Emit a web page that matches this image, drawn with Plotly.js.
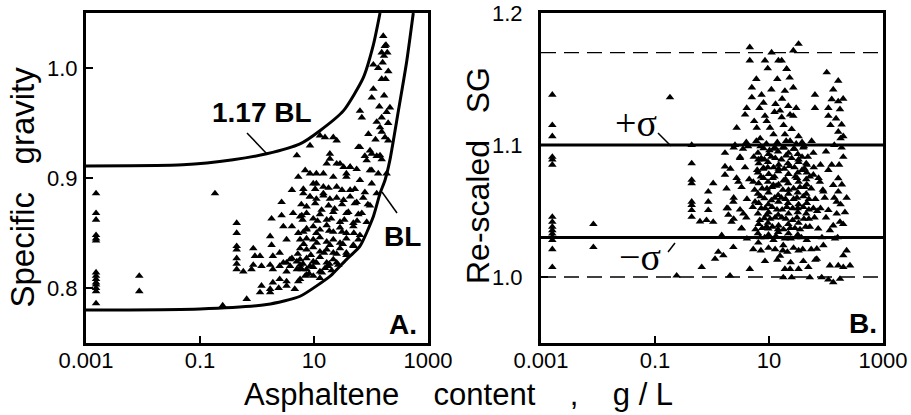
<!DOCTYPE html>
<html><head><meta charset="utf-8">
<script src="https://cdn.plot.ly/plotly-3.0.1.min.js"></script>
<style>html,body{margin:0;padding:0;background:#fff}#chart{width:911px;height:415px}</style>
</head><body><div id="chart"></div>
<script>
// ---------- DATA ----------
// Panel A: specific gravity vs asphaltene content (g/L)
const leftPoints = [
 [0.0015,0.886],[0.0015,0.868],[0.0015,0.862],[0.0015,0.848],[0.0015,0.845],[0.0015,0.843],[0.0015,0.814],[0.0015,0.811],[0.0015,0.808],[0.0015,0.805],[0.0015,0.803],[0.0015,0.800],[0.0015,0.797],[0.0015,0.786],
 [0.0086,0.811],[0.0086,0.797],
 [0.183,0.886],[0.25,0.784],[0.66,0.790],
 [0.44,0.859],[0.44,0.850],[0.44,0.838],[0.44,0.835],[0.44,0.827],[0.44,0.822],[0.44,0.817],[0.575,0.815],
 [164,1.029],[183,1.021],[154,1.014],[193,1.014],[169,1.011],[110,1.003],[134,1.000],[201,0.997],[154,0.990],[110,0.981],[103,0.973],[215,0.964],[188,0.960],[64,0.961],[69,0.955],[154,0.955],[126,0.951],[144,0.946],[154,0.942],[176,0.937],[201,0.934],[15.6,0.937],[21.8,0.937],[25,0.934],[64,0.928],[96,0.925],[126,0.920],[78,0.920],[154,0.917],[19,0.922],[16.7,0.913],[25,0.913],[33,0.910],[43,0.910],[56,0.908],[103,0.907],[188,0.904],[11,0.904],[37,0.904],
 [5.0,0.9205],[8.5,0.9295],[12.7,0.9386],[7.0,0.907],[5.3,0.901],[8.5,0.904],[11,0.895],[4.1,0.889],[6.5,0.890],[2.7,0.878],[8.5,0.883],[14.6,0.886],[1.8,0.863],[2.7,0.866],[4.3,0.868],[6.1,0.866],[2.9,0.856],[4.1,0.856],[1.7,0.847],[1.8,0.839],[3.3,0.844],[5.3,0.850],[7.4,0.853],[0.86,0.836],[0.92,0.829],[1.13,0.829],[1.9,0.829],[2.5,0.832],[0.86,0.821],[1.2,0.820],[1.7,0.821],[3.3,0.823],[4.1,0.827],[5.0,0.824],[0.8,0.817],[1.9,0.817],[2.5,0.820],[6.1,0.817],[8.5,0.820],[11,0.823],[7.4,0.812],[2.5,0.808],[1.9,0.805],[3.3,0.806],[1.2,0.802],[1.7,0.799],[2.4,0.800],[1.13,0.796],[1.7,0.796],[4.6,0.799],[3.3,0.802],[5.3,0.806],
 [60,0.928],[103,0.922],[144,0.9205],[84,0.916],[19,0.9175],[28.6,0.913],[43,0.910],[96,0.907],[134,0.904],[14.6,0.904],[21.8,0.901],[37,0.901],[64,0.898],[103,0.895],[9.7,0.895],[14.6,0.892],[25,0.892],[43,0.889],[78,0.887],[126,0.886],[6.5,0.886],[11,0.881],[19,0.881],[33,0.880],[56,0.878],[96,0.875],[7.4,0.874],[13.6,0.871],[23,0.872],[40,0.869],[69,0.868],[5.7,0.865],[9.7,0.863],[16.7,0.862],[28.6,0.860],[49,0.859],[84,0.860],[7.4,0.854],[12.7,0.853],[21.8,0.851],[37,0.850],[64,0.848],[5.7,0.844],[9.7,0.844],[16.7,0.842],[28.6,0.841],[49,0.839],[7.4,0.835],[12.7,0.833],[21.8,0.832],[37,0.830],[5.7,0.826],[9.7,0.824],[16.7,0.823],[26.7,0.821],[7.4,0.817],[12.7,0.815],[20.4,0.816],[5.7,0.808],[9.7,0.811],[12.7,0.809],
 [7.0,0.811],[17.8,0.820],[25,0.823],[37,0.832],[49,0.838],[60,0.844],
 [8.5,0.883],[14.6,0.884],[25,0.882],[43,0.883],[73,0.882],
 [7.4,0.868],[12.7,0.867],[21.8,0.869],[37,0.868],[60,0.867],
 [9.7,0.856],[16.7,0.857],[28.6,0.855],[49,0.856],
 [7.4,0.845],[12.7,0.846],[21.8,0.844],[37,0.845],
 [5.7,0.836],[9.7,0.837],[16.7,0.835],[28.6,0.836],
 [7.4,0.827],[12.7,0.828],[21.8,0.826],
 [5.7,0.818],[9.7,0.819],[15.6,0.818],
 [2.9,0.823],[3.8,0.820],[5.0,0.817],[3.8,0.826],[5.7,0.821],[3.3,0.815],
 [10.5,0.890],[18,0.891],[31,0.889],[52,0.890],
 [6.0,0.876],[10.5,0.877],[18,0.875],[31,0.876],[52,0.877],[88,0.876],
 [6.3,0.862],[11.5,0.861],[20,0.863],[34,0.862],[57,0.861],
 [6.5,0.851],[11,0.850],[18.5,0.852],[31,0.851],[50,0.850],
 [6.6,0.840],[11.2,0.841],[19,0.839],[32,0.840],
 [5.2,0.831],[8.8,0.830],[15,0.832],[25,0.831],
 [6.4,0.822],[10.8,0.823],[18.5,0.822],
 [8.2,0.813],[13.8,0.814],
 [120,0.935],[170,0.975],[180,0.990],[160,1.005],[140,0.965],[90,0.940],[200,0.950],[175,1.020]
];
// BL curve and 1.17 BL curve
const blAsph = [0.001, 0.1, 1.48, 5.7, 19, 21.9, 37.4, 64, 110, 144, 176, 214, 302, 423, 552];
const blSG   = [0.780, 0.781, 0.785, 0.7925, 0.8106, 0.8136, 0.826, 0.838, 0.865, 0.886, 0.898, 0.916, 0.961, 1.006, 1.05];
const ulAsph = [0.001, 0.05, 0.38, 1.48, 5.68, 12.7, 32.7, 73, 110, 144];
const ulSG   = [0.911, 0.912, 0.9166, 0.922, 0.931, 0.943, 0.961, 0.991, 1.021, 1.05];

// Panel B: re-scaled SG vs asphaltene content (g/L)
const rightPoints = [
 [0.00158,1.138],[0.00158,1.115],[0.00158,1.1066],[0.00158,1.091],[0.00158,1.089],[0.00158,1.085],[0.00158,1.0455],[0.00158,1.0417],[0.00158,1.038],[0.00158,1.0354],[0.00158,1.0328],[0.00158,1.0303],[0.00158,1.028],[0.00158,1.021],[0.00158,1.0074],
 [0.0083,1.040],[0.0083,1.0226],[0.183,1.136],[0.24,1.001],
 [0.44,1.100],[0.44,1.086],[0.44,1.0735],[0.44,1.071],[0.44,1.057],[0.44,1.0545],[0.44,1.0506],[0.44,1.0455],
 [0.615,1.042],[0.66,1.0074],[0.8,1.043],[0.86,1.057],[0.86,1.0646],[1.05,1.071],[0.86,1.0506],[1.05,1.0417],[1.13,1.0137],[1.29,1.019],[1.48,1.0316],[1.58,1.0163],[1.69,1.0837],[1.69,1.0774],[1.69,1.094],[1.81,1.052],[1.94,1.047],[2.07,1.001],[2.2,1.0417],[2.37,1.057],[2.37,1.0226],[2.53,1.100],[2.71,1.113],[2.9,1.072],[3.1,1.091],[3.3,1.0366],[3.55,1.048],[3.8,1.123],[4.06,1.128],[4.3,1.099],[4.6,1.006],[4.6,1.174],[4.6,1.164],[5.0,1.1435],[5.0,1.136],[5.3,1.072],[5.7,1.057],[6.1,1.113],[6.5,1.089],[6.5,1.026],[7.0,1.105],[7.4,1.138],[7.9,1.082],[8.5,1.164],[8.5,1.122],[9.1,1.047],[9.7,1.0366],[10.4,1.113],[11.1,1.170],[11.9,1.0697],[12.7,1.098],[14.6,1.164],[15.6,1.126],[16.7,1.121],[15.6,1.016],[17.8,1.024],[20.4,1.1575],[19,1.006],
 [33,1.1766],[26.7,1.1715],[16.7,1.164],[20.4,1.1575],[23,1.151],[26.7,1.1435],[19,1.141],[103,1.155],[164,1.1486],[134,1.142],[64,1.138],[64,1.128],[126,1.1346],[164,1.133],[110,1.128],[176,1.127],[110,1.122],[21.8,1.1295],[23.4,1.123],[26.7,1.122],[188,1.1155],[164,1.110],[201,1.1066],[33,1.1066],[23.4,1.103],[56,1.103],[40,1.098],[60,1.094],[188,1.098],[201,1.091],[126,1.085],[110,1.081],[46,1.085],[60,1.0774],[164,1.0748],[134,1.0697],[164,1.0646],[78,1.072],[90,1.0646],[154,1.057],[215,1.049],[154,1.048],[110,1.0506],[60,1.052],[134,1.039],[176,1.0417],[117,1.0354],[73,1.0366],[144,1.029],[90,1.024],[69,1.0214],[201,1.0163],[69,1.0137],[117,1.0087],[164,1.0087],[201,1.0074],[264,1.0087],[49,1.0074],[33,1.006],[23.4,1.006],[17.8,0.9997],[25,0.9997],[52,0.9997],[84,0.9997],[110,0.998],[134,0.996],[176,0.9985],
 [9.1,1.118],[12,1.108],[18,1.115],[13,1.131],[6.8,1.128],[19,1.108],
 [2.4,1.098],[3.5,1.097],[7.1,1.099],[10.2,1.096],[17.5,1.098],[27,1.097],[41,1.099],
 [3.1,1.090],[5.4,1.091],[8.3,1.089],[12.9,1.090],[20,1.092],[33,1.089],[48,1.091],
 [2.1,1.082],[3.8,1.083],[6.2,1.081],[9.5,1.083],[14.8,1.082],[23,1.084],[38,1.081],[61,1.083],
 [2.7,1.075],[4.5,1.074],[7.2,1.076],[11.6,1.075],[18,1.073],[29,1.076],[45,1.074],[74,1.075],
 [1.8,1.067],[3.3,1.068],[5.6,1.066],[9.2,1.067],[13.4,1.069],[22,1.066],[35,1.068],[55,1.067],[88,1.066],
 [2.4,1.060],[4.1,1.059],[7.1,1.061],[11,1.058],[16.5,1.060],[27,1.059],[40,1.061],[65,1.059],
 [1.9,1.052],[3.1,1.051],[5.2,1.053],[8.6,1.052],[13.8,1.051],[20.5,1.053],[32,1.052],[50,1.051],[80,1.052],
 [2.4,1.044],[4.0,1.045],[6.9,1.043],[10.5,1.044],[16.8,1.045],[26,1.043],[41,1.044],[63,1.045],
 [3.3,1.037],[5.8,1.036],[9,1.038],[14.4,1.036],[23.5,1.037],[35,1.036],[52,1.038],
 [4.1,1.029],[7,1.030],[12,1.028],[19,1.029],[30,1.030],[46,1.028],
 [5.3,1.021],[9.8,1.022],[17.5,1.020],[27,1.022],[39,1.021],
 [6.4,1.094],[9.8,1.093],[14.4,1.095],[22,1.094],[32,1.093],
 [6.6,1.086],[9.6,1.087],[14.8,1.085],[21.5,1.086],[33,1.087],[45,1.086],
 [6.4,1.079],[9.9,1.078],[14.5,1.080],[22,1.078],[32,1.079],[46,1.079],
 [6.6,1.071],[9.6,1.072],[14.7,1.070],[21.7,1.071],[33,1.072],[46,1.070],
 [6.4,1.063],[9.8,1.064],[14.5,1.062],[22,1.063],[32,1.064],[45,1.063],
 [6.6,1.056],[9.7,1.055],[14.7,1.057],[21.6,1.056],[33,1.055],[46,1.056],
 [6.4,1.048],[9.8,1.049],[14.5,1.047],[22,1.048],[32,1.049],[45,1.048],
 [6.6,1.040],[9.6,1.041],[14.7,1.039],[21.8,1.040],[33,1.041],
 [6.4,1.033],[9.8,1.032],[14.5,1.034],[22,1.033],[32,1.032],
 [4,1.102],[6,1.103],[9,1.101],[14,1.102],[20,1.103],[30,1.101],[38,1.102],
 [5.5,1.118],[8,1.132],[11,1.142],[14,1.150],[6,1.150],[9.5,1.158],[12.5,1.125],[17,1.135],[25,1.112],[30,1.128],
 [150,1.120],[180,1.105],[140,1.100],[120,1.115],[200,1.135],[170,1.085],[190,1.070],[140,1.060],[180,1.055],[160,1.030],[200,1.040],[230,1.020],[100,1.045],[85,1.030],[70,1.050],[95,1.060],[80,1.085],[100,1.095],[230,1.060],
 [8,1.0975],[12,1.097],[18.5,1.098],[28,1.097],
 [7.3,1.090],[11,1.091],[16.5,1.089],[25,1.090],[38,1.091],
 [8,1.0825],[12,1.083],[18.5,1.082],[28,1.083],[42,1.082],
 [8,1.075],[12.5,1.076],[19.5,1.074],[31,1.075],[52,1.076],
 [7.6,1.067],[11.3,1.068],[17.5,1.066],[27,1.067],[42,1.068],
 [8.3,1.0595],[12.6,1.060],[19.5,1.059],[31,1.060],[50,1.059],
 [7.3,1.052],[11.3,1.053],[17,1.051],[26,1.052],[40,1.053],
 [8.3,1.0445],[12.8,1.045],[19.8,1.044],[31,1.045],[50,1.044],
 [7.6,1.037],[11.5,1.038],[18,1.036],[28.5,1.037],[44,1.038],
 [8.4,1.030],[13.2,1.031],[24,1.029],[37,1.030],
 [7.2,1.020],[12.8,1.021],[21,1.019],[33,1.020],[55,1.021],
 [8.5,1.012],[14,1.013],[24,1.011],[40,1.012],[65,1.013]
];
// Reference levels in panel B: 1.17 (dashed), +sigma, -sigma, 1.00 (dashed)
const refLevels = [1.17, 1.10, 1.03, 1.00];
const refDashed = [true, false, false, true];
const xSpan = [0.001, 1000];

const xTickVals = [0.001, 0.1, 10, 1000];
const xTickText = ['0.001', '0.1', '10', '1000'];
const yATickVals = [0.8, 0.9, 1.0];
const yATickText = ['0.8', '0.9', '1.0'];
const yBTickVals = [1.0, 1.1, 1.2];
const yBTickText = ['1.0', '1.1', '1.2'];

// ---------- PLOT ----------
const W = 911, H = 415, ML = 86, MR = 28, MT = 13, MB = 72;
const PW = W - ML - MR, PH = H - MT - MB;
const px = v => (v - ML) / PW;
const py = v => (H - MB - v) / PH;

const marker = {symbol: 'triangle-up', size: 7.5, color: '#000', line: {width: 0}};
const traces = [];
traces.push({x: blAsph, y: blSG, mode: 'lines', line: {color: '#000', width: 3, shape: 'spline', smoothing: 0.6}, xaxis: 'x', yaxis: 'y', hoverinfo: 'skip'});
traces.push({x: ulAsph, y: ulSG, mode: 'lines', line: {color: '#000', width: 3, shape: 'spline', smoothing: 0.6}, xaxis: 'x', yaxis: 'y', hoverinfo: 'skip'});
traces.push({x: leftPoints.map(p => p[0]), y: leftPoints.map(p => p[1]), mode: 'markers', marker, xaxis: 'x', yaxis: 'y', cliponaxis: true});
refLevels.forEach((lv, i) => {
  traces.push({x: xSpan, y: [lv, lv], mode: 'lines', xaxis: 'x2', yaxis: 'y2', hoverinfo: 'skip',
    line: refDashed[i] ? {color: '#000', width: 1.3, dash: '15px,8px'} : {color: '#000', width: 3}});
});
traces.push({x: rightPoints.map(p => p[0]), y: rightPoints.map(p => p[1]), mode: 'markers', marker, xaxis: 'x2', yaxis: 'y2', cliponaxis: true});

const tickFont = {family: 'Liberation Sans, Arial, sans-serif', size: 22, color: '#000'};
const axBase = {showline: true, linewidth: 3, linecolor: '#000', mirror: true, showgrid: false, zeroline: false,
  ticks: 'inside', ticklen: 7, tickwidth: 2, tickcolor: '#000', tickfont: tickFont};

const labelFont = {family: 'Liberation Sans, Arial, sans-serif', size: 28, color: '#000', weight: 'bold'};
const titleFont = {family: 'Liberation Sans, Arial, sans-serif', size: 31, color: '#000'};
const sigFont = {family: 'Liberation Serif, Times New Roman, serif', size: 38, color: '#000'};
const nb = '\u00a0';
function ann(text, x, y, font, extra) {
  return Object.assign({text, x: px(x), y: py(y), xref: 'paper', yref: 'paper', showarrow: false,
    xanchor: 'center', yanchor: 'middle', font}, extra || {});
}
const annotations = [
  ann('<b>1.17 BL</b>', 261.5, 113, labelFont),
  ann('<b>BL</b>', 402.5, 237, labelFont),
  ann('<b>A.</b>', 402.5, 324, labelFont),
  ann('<b>B.</b>', 863, 323, labelFont),
  ann('+σ', 635.5, 123, sigFont),
  ann('−σ', 640, 257, sigFont),
  ann('Asphaltene' + nb.repeat(4) + 'content' + nb.repeat(4) + ',' + nb.repeat(4) + 'g / L', 458, 394, titleFont),
  ann('Specific' + nb.repeat(3) + 'gravity', 22, 187.5, {family: titleFont.family, size: 33, color: '#000'}, {textangle: -90}),
  ann('Re-scaled' + nb.repeat(3) + 'SG', 478, 176, {family: titleFont.family, size: 32, color: '#000'}, {textangle: -90})
];
function seg(x0, y0, x1, y1) {
  return {type: 'line', xref: 'paper', yref: 'paper', x0: px(x0), y0: py(y0), x1: px(x1), y1: py(y1), line: {color: '#000', width: 1.5}};
}
const shapes = [seg(247, 133, 267, 154), seg(382, 192, 397, 213), seg(658, 133, 671, 146), seg(668, 252, 675, 243)];

const layout = {
  width: W, height: H, margin: {l: ML, r: MR, t: MT, b: MB, pad: 0},
  paper_bgcolor: '#fff', plot_bgcolor: '#fff', showlegend: false,
  xaxis: Object.assign({}, axBase, {domain: [0, (428 - ML) / PW], type: 'log', range: [-3, 3], tickvals: xTickVals, ticktext: xTickText, anchor: 'y', ticklabelstandoff: -4}),
  yaxis: Object.assign({}, axBase, {range: [0.75, 1.05], tickvals: yATickVals, ticktext: yATickText, anchor: 'x', ticklabelstandoff: 1}),
  xaxis2: Object.assign({}, axBase, {domain: [(541 - ML) / PW, 1], type: 'log', range: [-3, 3], tickvals: xTickVals, ticktext: xTickText, anchor: 'y2', ticklabelstandoff: -4}),
  yaxis2: Object.assign({}, axBase, {range: [0.95, 1.2], tickvals: yBTickVals, ticktext: yBTickText, anchor: 'x2', ticklabelstandoff: 11}),
  annotations, shapes
};
Plotly.newPlot('chart', traces, layout, {staticPlot: true, displayModeBar: false});
</script></body></html>
